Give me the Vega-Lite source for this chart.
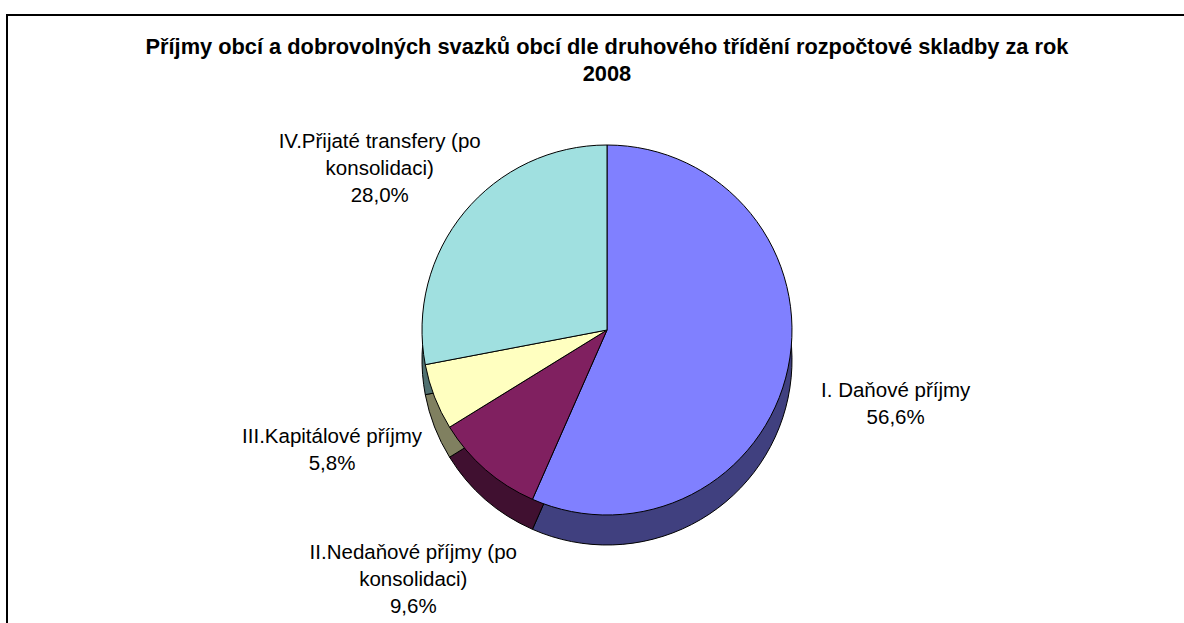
{
  "$schema": "https://vega.github.io/schema/vega-lite/v6.json",
  "autosize": {"type": "none"},
  "padding": {"left": 7, "top": 15, "right": 0, "bottom": 0},
  "width": 1200,
  "height": 630,
  "background": "white",
  "title": {
    "text": ["Příjmy obcí a dobrovolných svazků obcí dle druhového třídění rozpočtové skladby za rok", "2008"],
    "font": "Liberation Sans",
    "fontSize": 21.8,
    "fontWeight": "bold",
    "color": "black",
    "lineHeight": 27,
    "anchor": "middle",
    "offset": -72
  },
  "config": {"view": {"stroke": null}},
  "resolve": {"scale": {"color": "independent"}},
  "layer": [
    {
      "data": {"values": [{"ramec": 1}]},
      "mark": {"type": "rect", "fill": "white", "stroke": "black", "strokeWidth": 2}
    },
    {
      "data": {"name": "podily"},
      "mark": {"type": "arc", "outerRadius": 185, "stroke": "black", "strokeWidth": 1, "yOffset": 30},
      "encoding": {
        "theta": {"field": "podil", "type": "quantitative", "stack": true},
        "order": {"field": "poradi", "type": "quantitative"},
        "color": {
          "field": "kategorie",
          "type": "nominal",
          "legend": null,
          "scale": {
            "domain": ["I. Daňové příjmy", "II.Nedaňové příjmy (po konsolidaci)", "III.Kapitálové příjmy", "IV.Přijaté transfery (po konsolidaci)"],
            "range": ["#40407F", "#401030", "#808060", "#507070"]
          }
        }
      }
    },
    {
      "data": {"name": "podily"},
      "mark": {"type": "arc", "outerRadius": 185, "stroke": "black", "strokeWidth": 1},
      "encoding": {
        "theta": {"field": "podil", "type": "quantitative", "stack": true},
        "order": {"field": "poradi", "type": "quantitative"},
        "color": {
          "field": "kategorie",
          "type": "nominal",
          "legend": null,
          "scale": {
            "domain": ["I. Daňové příjmy", "II.Nedaňové příjmy (po konsolidaci)", "III.Kapitálové příjmy", "IV.Přijaté transfery (po konsolidaci)"],
            "range": ["#8080FF", "#802060", "#FFFFC0", "#A0E0E0"]
          }
        }
      }
    },
    {
      "data": {"name": "podily"},
      "mark": {"type": "text", "font": "Liberation Sans", "fontSize": 20.5, "color": "black", "lineBreak": "\n", "lineHeight": 27, "align": "center", "baseline": "middle"},
      "encoding": {
        "theta": {"field": "podil", "type": "quantitative", "stack": true},
        "order": {"field": "poradi", "type": "quantitative"},
        "radius": {"value": 295},
        "text": {"field": "popisek", "type": "nominal"}
      }
    }
  ],
  "datasets": {
    "podily": [
      {"kategorie": "I. Daňové příjmy", "podil": 56.6, "poradi": 1, "popisek": "I. Daňové příjmy\n56,6%"},
      {"kategorie": "II.Nedaňové příjmy (po konsolidaci)", "podil": 9.6, "poradi": 2, "popisek": "II.Nedaňové příjmy (po\nkonsolidaci)\n9,6%"},
      {"kategorie": "III.Kapitálové příjmy", "podil": 5.8, "poradi": 3, "popisek": "III.Kapitálové příjmy\n5,8%"},
      {"kategorie": "IV.Přijaté transfery (po konsolidaci)", "podil": 28.0, "poradi": 4, "popisek": "IV.Přijaté transfery (po\nkonsolidaci)\n28,0%"}
    ]
  }
}
